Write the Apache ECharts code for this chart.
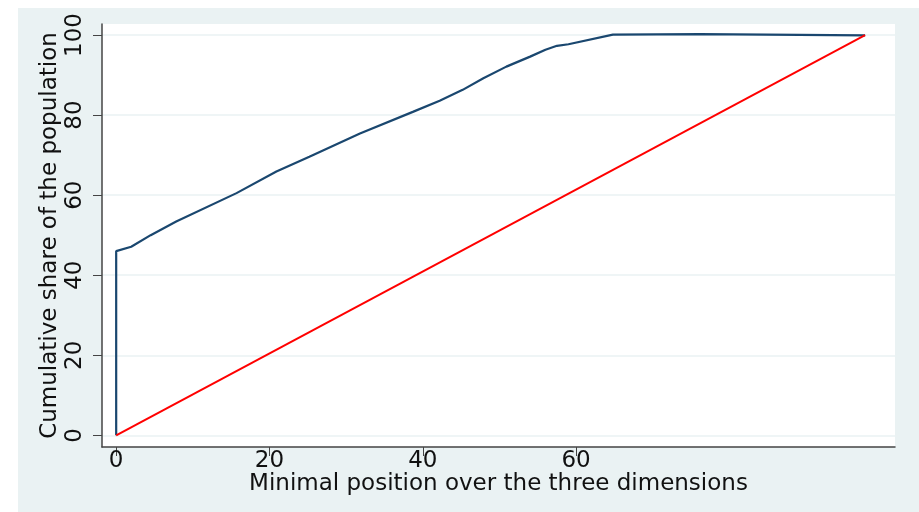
<!DOCTYPE html>
<html>
<head>
<meta charset="utf-8">
<script src="https://cdn.jsdelivr.net/npm/echarts@6/dist/echarts.min.js"></script>
<style>
html,body{margin:0;padding:0;background:#ffffff;}
#chart{width:919px;height:512px;}
</style>
</head>
<body>
<div id="chart"></div>
<script>
// Data
var curveX = [0, 0, 1.96, 4.5, 7.83, 15.7, 20.9, 25.2, 31.8, 38.7, 42.2, 45.2, 47.9, 50.9, 54.0, 56.0, 57.5, 59.0, 64.8, 76.2, 97.7];
var curveY = [0, 46.0, 47.1, 50.0, 53.4, 60.5, 65.9, 69.6, 75.4, 80.8, 83.6, 86.3, 89.2, 92.1, 94.6, 96.3, 97.3, 97.7, 100.1, 100.2, 99.9];
var diagX = [0, 97.7];
var diagY = [0, 100];
var xTicks = [0, 20, 40, 60];
var yTicks = [0, 20, 40, 60, 80, 100];
var xTitle = 'Minimal position over the three dimensions';
var yTitle = 'Cumulative share of the population';

var FONT = "'DejaVu Sans', sans-serif";
function pairs(xs, ys){ return xs.map(function(x,i){ return [x, ys[i]]; }); }

var chart = echarts.init(document.getElementById('chart'));
chart.setOption({
  backgroundColor: '#ffffff',
  animation: false,
  graphic: [{
    type: 'rect', z: -10, silent: true,
    shape: {x: 18, y: 8, width: 901, height: 504},
    style: {fill: '#EAF2F3'}
  }],
  grid: {left: 102, right: 24, top: 24, bottom: 65, show: true, backgroundColor: '#ffffff', borderWidth: 0},
  xAxis: {
    type: 'value', min: -1.85, max: 101.6,
    name: xTitle, nameLocation: 'middle', nameGap: 26, nameMoveOverlap: false,
    nameTextStyle: {fontFamily: FONT, fontSize: 23, color: '#111'},
    axisLine: {show: true, onZero: false, lineStyle: {color: '#444', width: 1.5}},
    axisTick: {show: true, length: 9, customValues: xTicks, lineStyle: {color: '#444', width: 1}},
    axisLabel: {customValues: xTicks, margin: 3, fontFamily: FONT, fontSize: 23, color: '#111'},
    splitLine: {show: false}
  },
  yAxis: {
    type: 'value', min: -2.92, max: 102.75,
    name: yTitle, nameLocation: 'middle', nameGap: 40, nameRotate: 90, nameMoveOverlap: false,
    nameTextStyle: {fontFamily: FONT, fontSize: 23, color: '#111'},
    axisLine: {show: true, onZero: false, lineStyle: {color: '#444', width: 1.5}},
    axisTick: {show: true, length: 9, customValues: yTicks, lineStyle: {color: '#444', width: 1}},
    axisLabel: {customValues: yTicks, rotate: 90, margin: 15, fontFamily: FONT, fontSize: 23, color: '#111'},
    splitLine: {show: true, lineStyle: {color: '#EAF2F3', width: 1.5}}
  },
  series: [{
    type: 'line', data: pairs(curveX, curveY), symbol: 'none', z: 3,
    lineStyle: {color: '#1a476f', width: 2.2}
  }, {
    type: 'line', data: pairs(diagX, diagY), symbol: 'none', z: 4,
    lineStyle: {color: '#ff0000', width: 2}
  }]
});
</script>
</body>
</html>
